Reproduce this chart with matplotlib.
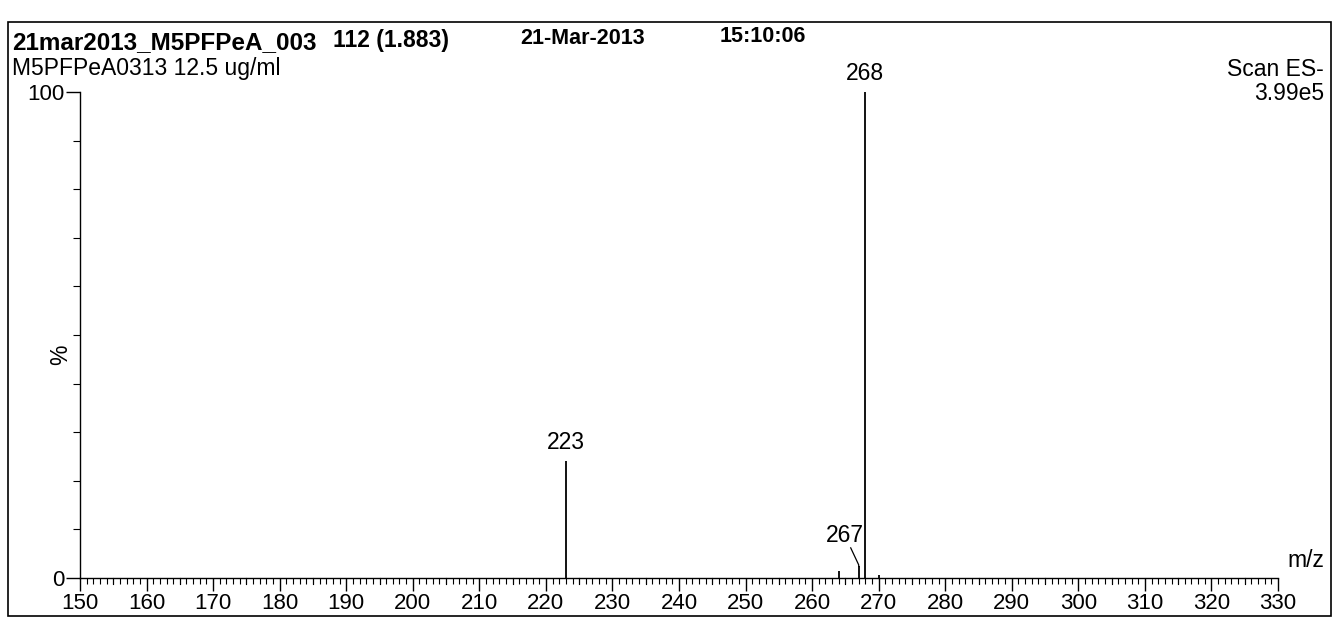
import matplotlib
matplotlib.use("Agg")
import matplotlib.pyplot as plt
from matplotlib.ticker import MultipleLocator, FixedLocator
from matplotlib.patches import Rectangle

plt.rcParams['font.family'] = ['Liberation Sans', 'DejaVu Sans']

# Data
mz = [223, 264, 267, 268, 270]
intensity = [24, 1.5, 2.4, 100, 0.6]
x_ticks = [150, 160, 170, 180, 190, 200, 210, 220, 230, 240, 250, 260, 270, 280, 290, 300, 310, 320, 330]
y_ticks = [0, 100]

title_file = "21mar2013_M5PFPeA_003"
title_scan = "112 (1.883)"
title_date = "21-Mar-2013"
title_time = "15:10:06"
subtitle = "M5PFPeA0313 12.5 ug/ml"
scan_text = "Scan ES-"
scale_text = "3.99e5"

W, H = 1335, 624
fig = plt.figure(figsize=(W / 100, H / 100), dpi=100)
fig.patch.set_facecolor('white')

def fx(px):
    return px / W

def fy(py):
    return 1 - py / H

FS = 16.5

ax = fig.add_axes([fx(80), fy(578), fx(1278) - fx(80), fy(92) - fy(578)])
ax.vlines(mz, 0, intensity, colors='black', linewidth=1.3)
ax.set_xlim(150, 330)
ax.set_ylim(0, 100)
for s in ['top', 'right']:
    ax.spines[s].set_visible(False)
for s in ['left', 'bottom']:
    ax.spines[s].set_linewidth(1.0)

ax.xaxis.set_major_locator(FixedLocator(x_ticks))
ax.xaxis.set_minor_locator(MultipleLocator(1))
ax.set_xticklabels([str(t) for t in x_ticks])
ax.tick_params(axis='x', which='major', direction='out', length=9, width=1, labelsize=16, pad=2)
ax.tick_params(axis='x', which='minor', direction='out', length=4, width=0.8)
ax.yaxis.set_major_locator(FixedLocator(y_ticks))
ax.yaxis.set_minor_locator(MultipleLocator(10))
ax.set_yticklabels([str(t) for t in y_ticks])
ax.tick_params(axis='y', which='major', direction='out', length=10, width=1, labelsize=16, pad=1)
ax.tick_params(axis='y', which='minor', direction='out', length=5, width=0.8)

# medium ticks at every 5 units
for v in range(155, 330, 10):
    ax.plot([v, v], [0, -1.3], color='black', linewidth=0.8, clip_on=False)

# peak labels
vals = dict(zip(mz, intensity))
ax.text(223, vals[223] + 1.5, "223", ha='center', va='bottom', fontsize=FS)
ax.text(268, vals[268] + 1.5, "268", ha='center', va='bottom', fontsize=FS)
ax.text(264.9, 6.3, "267", ha='center', va='bottom', fontsize=FS)
ax.plot([265.8, 267, 267], [6.2, vals[267] + 0.3, vals[267]], color='black', linewidth=0.9)

ax.text(-0.016, 0.46, "%", transform=ax.transAxes, rotation=90, ha='center', va='center', fontsize=FS)
ax.text(1.008, 0.012, "m/z", transform=ax.transAxes, ha='left', va='bottom', fontsize=FS)

# header texts
fig.text(fx(12), fy(43), title_file, ha='left', va='center', fontsize=17.5, fontweight='bold')
fig.text(fx(333), fy(41), title_scan, ha='left', va='center', fontsize=FS, fontweight='bold')
fig.text(fx(520), fy(39), title_date, ha='left', va='center', fontsize=15.5, fontweight='bold')
fig.text(fx(720), fy(37), title_time, ha='left', va='center', fontsize=15.5, fontweight='bold')
fig.text(fx(12), fy(69), subtitle, ha='left', va='center', fontsize=FS)
fig.text(fx(1324), fy(70), scan_text, ha='right', va='center', fontsize=FS)
fig.text(fx(1324), fy(93), scale_text, ha='right', va='center', fontsize=FS)

# outer frame
fig.patches.append(Rectangle((fx(8), fy(616)), fx(1331) - fx(8), fy(22) - fy(616),
                             transform=fig.transFigure, fill=False, edgecolor='black', linewidth=1.2))

fig.savefig("out.png", dpi=100, facecolor='white')
